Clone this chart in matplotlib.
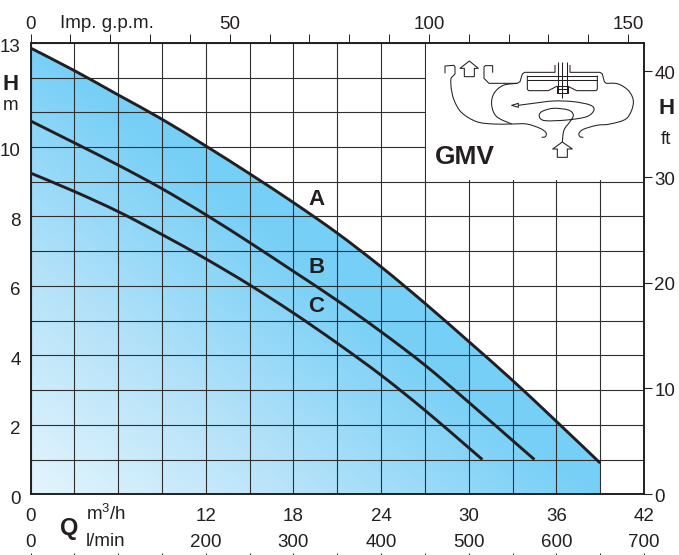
import numpy as np
import matplotlib
matplotlib.use('Agg')
import matplotlib.pyplot as plt
from matplotlib.path import Path
from matplotlib.patches import PathPatch, Rectangle, Polygon
from matplotlib.colors import LinearSegmentedColormap
from matplotlib.transforms import ScaledTranslation

plt.rcParams['font.family'] = ['Liberation Sans', 'DejaVu Sans']
plt.rcParams['mathtext.fontset'] = 'custom'
plt.rcParams['mathtext.rm'] = 'Liberation Sans'
plt.rcParams['mathtext.default'] = 'regular'

# ---- data (l/min, metres) ----
q_a = [0, 50, 100, 150, 200, 250, 300, 350, 400, 450, 500, 550, 600, 650]
h_a = [12.85, 12.2, 11.5, 10.8, 10.03, 9.23, 8.4, 7.52, 6.55, 5.5, 4.4, 3.28, 2.1, 0.9]
q_b = [0, 50, 100, 150, 200, 250, 300, 350, 400, 450, 500, 550, 575]
h_b = [10.75, 10.12, 9.48, 8.8, 8.05, 7.25, 6.42, 5.58, 4.68, 3.72, 2.65, 1.55, 1.0]
q_c = [0, 50, 100, 150, 200, 250, 300, 350, 400, 450, 500, 515.6]
h_c = [9.25, 8.72, 8.14, 7.48, 6.78, 6.03, 5.22, 4.35, 3.43, 2.42, 1.34, 1.0]

q_ticks = list(range(0, 701, 50))
h_ticks = list(range(0, 14))
h_labels = {0: '0', 2: '2', 4: '4', 6: '6', 8: '8', 10: '10', 13: '13'}
m3h_labels = {0: '0', 200: '12', 300: '18', 400: '24', 500: '30', 600: '36', 700: '42'}
lmin_labels = {0: '0', 200: '200', 300: '300', 400: '400', 500: '500', 600: '600', 700: '700'}
gpm_ticks = list(range(0, 151, 10))
gpm_labels = {0: '0', 50: '50', 100: '100', 150: '150'}
ft_ticks = [0, 10, 20, 30, 40]

W, H = 679, 555
DARK = '#231f20'
FS = 13.5

fig = plt.figure(figsize=(W / 100, H / 100), dpi=100, facecolor='white')
L, R, T, B = 30.5, 644.0, 42.8, 494.3
ax = fig.add_axes([L / W, 1 - B / H, (R - L) / W, (B - T) / H])
ax.set_xlim(0, 700)
ax.set_ylim(0, 13)


def spline_path(xs, ys):
    """Smooth Bezier path running through the given points."""
    p = np.column_stack([xs, ys]).astype(float)
    ext = np.vstack([p[0], p, p[-1]])
    v, c = [tuple(p[0])], [Path.MOVETO]
    for i in range(1, len(ext) - 2):
        a, b, d, e = ext[i - 1], ext[i], ext[i + 1], ext[i + 2]
        v += [tuple(b + (d - a) / 6), tuple(d - (e - b) / 6), tuple(d)]
        c += [Path.CURVE4] * 3
    return v, c


# gradient area under curve A
ny, nx = 300, 500
X, Y = np.meshgrid(np.linspace(0, R - L, nx), np.linspace(0, B - T, ny))
t = X + 1.25 * Y
cmap = LinearSegmentedColormap.from_list('g', [(0, '#e3f5fd'), (280 / 800, '#b5e2f9'),
                                               (560 / 800, '#78d0f7'), (1, '#6fcdf6')])
im = ax.imshow(t / 800, extent=(0, 700, 0, 13), origin='lower', aspect='auto',
               cmap=cmap, vmin=0, vmax=1, zorder=1, interpolation='bilinear')
v_a, c_a = spline_path(q_a, h_a)
clip_path = Path([(0, 0), (0, h_a[0])] + v_a[1:] + [(q_a[-1], 0), (0, 0)],
                 [Path.MOVETO, Path.LINETO] + c_a[1:] + [Path.LINETO, Path.CLOSEPOLY])
clip = PathPatch(clip_path, transform=ax.transData, fc='none', ec='none')
ax.add_patch(clip)
im.set_clip_path(clip)
ax.set_xlim(0, 700)
ax.set_ylim(0, 13)

# grid
ax.set_axisbelow(False)
ax.set_xticks(q_ticks)
ax.set_yticks(h_ticks)
ax.grid(True, color='#2f2f2f', lw=0.8)
ax.set_xticklabels([m3h_labels.get(q, '') for q in q_ticks])
ax.set_yticklabels([h_labels.get(h, '') for h in h_ticks])
ax.tick_params(axis='x', length=0, labelsize=FS, pad=10, colors=DARK)
ax.tick_params(axis='y', length=0, labelsize=FS, pad=7, colors=DARK)
off = ScaledTranslation(0, -2 / 72, fig.dpi_scale_trans)
for lab in ax.get_yticklabels():
    lab.set_transform(lab.get_transform() + off)
for s in ax.spines.values():
    s.set_linewidth(1.4)
    s.set_color(DARK)
    s.set_zorder(5)

# white box behind the diagram
ax.add_patch(Rectangle((451.5, 9.05), 248.5, 3.95, fc='white', ec='none', zorder=2.7))

# curves
for q, h in ((q_a, h_a), (q_b, h_b), (q_c, h_c)):
    v, c = spline_path(q, h)
    ax.add_patch(PathPatch(Path(v, c), fc='none', ec=DARK, lw=2.1, zorder=3,
                           capstyle='butt', joinstyle='round'))

# secondary axes
GPM = 0.22
top = ax.secondary_xaxis('top', functions=(lambda x: x * GPM, lambda x: x / GPM))
top.set_xticks(gpm_ticks)
top.set_xticklabels([gpm_labels.get(g, '') for g in gpm_ticks])
top.tick_params(length=6.5, width=0.7, labelsize=FS, pad=0.8, colors=DARK)
top.spines['top'].set_visible(False)

FT = 3.2808
right = ax.secondary_yaxis('right', functions=(lambda y: y * FT, lambda y: y / FT))
right.set_yticks(ft_ticks)
right.set_yticklabels([str(v) for v in ft_ticks])
right.tick_params(length=5.5, width=0.8, labelsize=FS, pad=2, colors=DARK)
right.spines['right'].set_visible(False)
for lab in right.get_yticklabels():
    lab.set_transform(lab.get_transform() + ScaledTranslation(0, -1 / 72, fig.dpi_scale_trans))

bot = ax.secondary_xaxis((B - 552.5) / (B - T), functions=(lambda x: x, lambda x: x))
bot.set_xticks(q_ticks)
bot.set_xticklabels([lmin_labels.get(q, '') for q in q_ticks])
bot.tick_params(length=2.2, width=0.7, labelsize=FS, pad=-15.8, colors=DARK)
bot.spines['bottom'].set_visible(False)

# overlay in pixel coordinates: annotation text and pump diagram
ov = fig.add_axes([0, 0, 1, 1], facecolor='none', zorder=10)
ov.set_xlim(0, W)
ov.set_ylim(H, 0)
ov.axis('off')


def label(x, y, s, size=FS, weight='normal', ha='center'):
    ov.text(x, y, s, fontsize=size, fontweight=weight, ha=ha, va='center', color=DARK)


label(107, 23, 'Imp. g.p.m.')
label(11, 84, 'H', 16, 'bold')
label(11, 105, 'm')
label(666.5, 109, 'H', 16, 'bold')
label(666, 140, 'ft')
label(69, 528, 'Q', 17, 'bold')
label(86, 514, 'm$^3$/h', ha='left')
label(86, 541, 'l/min', ha='left')
label(316.5, 199.5, 'A', 16, 'bold')
label(316.5, 267.5, 'B', 16, 'bold')
label(316.5, 306.5, 'C', 16, 'bold')
label(465, 157, 'GMV', 19, 'bold')


def zp(p):
    return [(440 + x / 3, 50 + y / 3) for x, y in p]


def smooth(points):
    p = zp(points)
    v, c = spline_path([a for a, _ in p], [b for _, b in p])
    ov.add_patch(PathPatch(Path(v, c), fc='none', ec=DARK, lw=0.75))


def poly(points, closed=False):
    p = zp(points)
    ov.add_patch(Polygon(p, closed=closed, fc='white' if closed else 'none', ec=DARK, lw=0.75,
                         joinstyle='round'))


# left discharge hook and outer casing
poly([(15, 70), (15, 48), (41, 46), (45, 50), (45, 72), (33, 84)])
smooth([(33, 84), (33, 110), (42, 150), (65, 188), (110, 215), (160, 222), (215, 222), (260, 222),
        (300, 235), (318, 248), (316, 260), (305, 262)])
# right discharge hook
poly([(158, 68), (158, 47), (136, 47), (132, 51), (132, 85), (147, 100), (232, 100)])
# left volute
smooth([(232, 100), (190, 106), (162, 130), (155, 165), (170, 200), (215, 222)])
# right volute
smooth([(498, 100), (535, 102), (568, 125), (580, 160), (560, 205), (510, 222), (470, 226), (430, 238),
        (417, 250), (420, 260), (430, 262)])
# cover
poly([(232, 100), (240, 95), (247, 72), (254, 67), (345, 67), (345, 45)])
poly([(498, 100), (493, 95), (487, 72), (480, 67), (390, 67), (390, 45)])
# impeller
poly([(262, 77), (472, 77)])
poly([(262, 90), (472, 90)])
poly([(262, 77), (262, 118), (266, 122), (325, 122), (352, 108)])
poly([(472, 77), (472, 118), (468, 122), (410, 122), (382, 108)])
poly([(350, 108), (384, 108), (384, 130), (350, 130)], closed=True)
poly([(350, 118), (384, 118)])
for x, y0, y1 in ((355, 35, 130), (367, 35, 145), (380, 35, 130)):
    poly([(x, y0), (x, y1)])
# flow
smooth([(367, 276), (372, 240), (390, 215), (400, 195), (385, 180), (340, 175), (305, 185), (298, 200),
        (315, 212), (380, 210), (440, 200), (462, 180), (450, 165), (400, 155), (340, 153), (280, 160),
        (235, 166)])
poly([(215, 166), (235, 160), (235, 172)], closed=True)
# arrows
poly([(88, 33), (115, 55), (103, 55), (103, 80), (73, 80), (73, 55), (60, 55)], closed=True)
poly([(367, 276), (397, 297), (382, 297), (382, 322), (352, 322), (352, 297), (338, 297)], closed=True)

fig.savefig('out.png', dpi=100, facecolor='white')
